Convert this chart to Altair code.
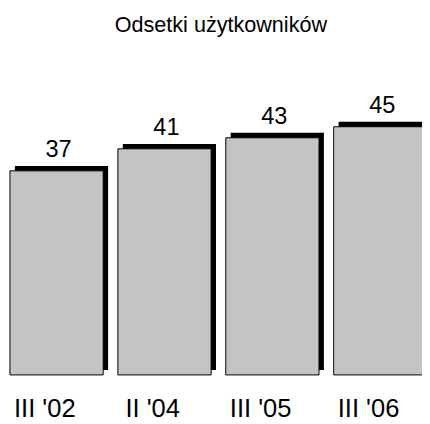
import altair as alt
import pandas as pd

categories = ["III '02", "II '04", "III '05", "III '06"]
values = [37, 41, 43, 45]
title_text = "Odsetki użytkowników"

df = pd.DataFrame({"okres": categories, "wartosc": values})

FONT = "Liberation Sans"

x_enc = alt.X(
    "okres:N",
    sort=categories,
    scale=alt.Scale(range=[2, 427], paddingInner=0.136, paddingOuter=0),
    axis=alt.Axis(
        title=None, domain=False, ticks=False, labelAngle=0,
        labelFontSize=26, labelFont=FONT, labelColor="black",
        labelBaseline="alphabetic", labelPadding=42, labelOffset=-12,
    ),
)
y_enc = alt.Y("wartosc:Q", scale=alt.Scale(domain=[0, 58.7], nice=False), axis=None)

base = alt.Chart(df)

shadow = base.mark_bar(color="black", xOffset=5, yOffset=-5).encode(x=x_enc, y=y_enc)
front = base.mark_bar(fill="#c4c4c4", stroke="black", strokeWidth=1).encode(x=x_enc, y=y_enc)
labels = base.mark_text(
    font=FONT, fontSize=24, color="black", baseline="alphabetic", dy=-14, dx=2
).encode(x=x_enc, y=y_enc, text="wartosc:Q")

chart = (
    alt.layer(shadow, front, labels)
    .properties(
        width=422,
        height=330,
        autosize=alt.AutoSizeParams(type="none"),
        padding={"left": 0, "top": 40, "right": 0, "bottom": 46},
        title=alt.TitleParams(
            text=title_text, font=FONT, fontSize=22, fontWeight="normal",
            color="black", anchor="middle", baseline="alphabetic", offset=16,
            dx=6, dy=18,
        ),
        background="white",
    )
    .configure_view(stroke=None)
)

chart.save("out.html", embed_options={"renderer": "svg", "actions": False})
